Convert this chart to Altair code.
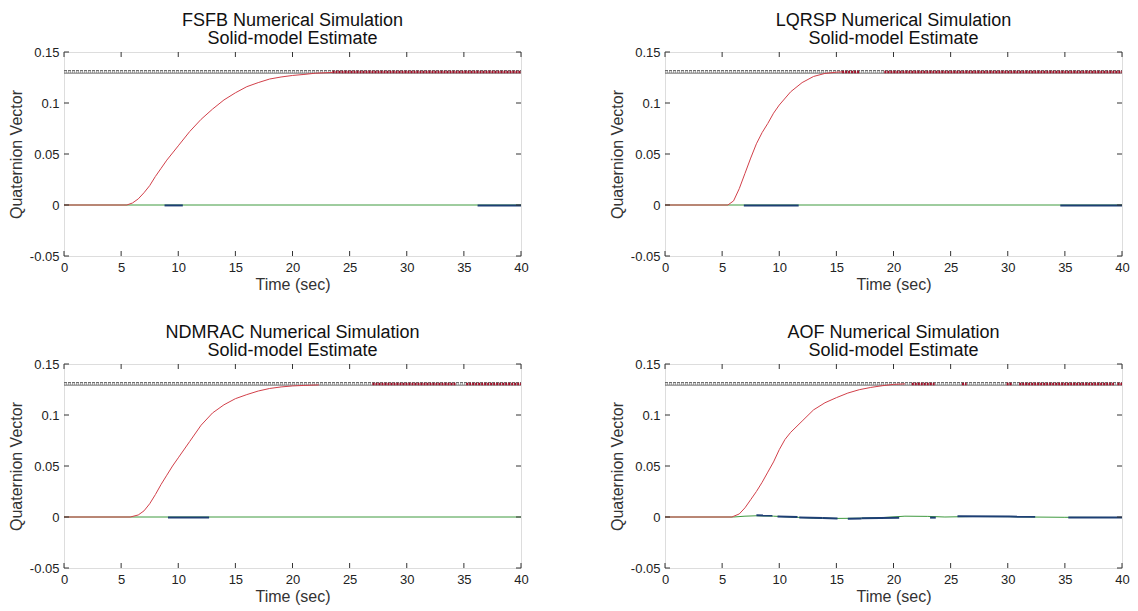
import altair as alt
import pandas as pd

# ---------------- data ----------------
X_TICKS = [0, 5, 10, 15, 20, 25, 30, 35, 40]
Y_TICKS = [-0.05, 0, 0.05, 0.1, 0.15]

# red (response) curves
FSFB_T = [0, 5.5, 6, 6.5, 7, 7.5, 8, 8.5, 9, 9.5, 10, 11, 12, 13, 14, 15, 16, 17, 18, 19, 20, 21, 22, 23.5]
FSFB_V = [0, 0, 0.002, 0.006, 0.012, 0.019, 0.028, 0.036, 0.044, 0.051, 0.058, 0.072, 0.084, 0.094, 0.103,
          0.110, 0.116, 0.120, 0.1235, 0.1255, 0.127, 0.128, 0.1292, 0.1300]
LQRSP_T = [0, 5.5, 6, 6.5, 7, 7.5, 8, 8.5, 9, 9.5, 10, 11, 12, 13, 14, 15, 15.5]
LQRSP_V = [0, 0, 0.004, 0.016, 0.031, 0.046, 0.060, 0.071, 0.080, 0.090, 0.098, 0.111, 0.120, 0.126, 0.129,
           0.1302, 0.1305]
NDMRAC_T = [0, 5.8, 6.5, 7, 7.5, 8, 8.5, 9, 9.5, 10, 11, 12, 13, 14, 15, 16, 17, 18, 19, 20, 21, 22.3]
NDMRAC_V = [0, 0, 0.002, 0.006, 0.013, 0.022, 0.032, 0.041, 0.050, 0.058, 0.074, 0.090, 0.102, 0.110, 0.116,
            0.120, 0.1235, 0.126, 0.1275, 0.1285, 0.129, 0.1295]
AOF_T = [0, 5.85, 6.5, 7, 7.5, 8, 8.5, 9, 9.5, 10, 10.5, 11, 12, 13, 14, 15, 16, 17, 18, 19, 20, 21]
AOF_V = [0, 0, 0.003, 0.009, 0.017, 0.025, 0.034, 0.044, 0.054, 0.066, 0.076, 0.083, 0.094, 0.105, 0.112,
         0.117, 0.1215, 0.1248, 0.127, 0.1287, 0.130, 0.1305]

# dense red band segments near steady state (start, end)
FSFB_BAND = [(23.5, 40)]
LQRSP_BAND = [(15.5, 17.0), (19.2, 40)]
NDMRAC_BAND = [(27.0, 34.3), (35.2, 40)]
AOF_BAND = [(21.6, 23.6), (26.0, 26.4), (29.9, 30.4), (31.0, 39.3), (39.6, 40)]

# reference lines around the commanded value
REF_HI = 0.1317
REF_MID = 0.1305
REF_LO = 0.1293

# green component
FLAT_GREEN_T = [0, 40]
FLAT_GREEN_V = [0, 0]
AOF_GREEN_T = [0, 6, 7, 8, 9.5, 11, 13, 15, 17, 19, 21, 23, 24.5, 27, 30, 32, 35, 40]
AOF_GREEN_V = [0, 0, 0.0008, 0.0012, 0.0008, 0, -0.001, -0.0014, -0.0012, -0.0006, 0.0008, 0.0006, 0,
               0.0005, 0.0004, 0, -0.0003, -0.0005]

# blue component segments: (t0, t1, v0, v1)
FSFB_BLUE = [(8.8, 10.4, -0.0004, -0.0004), (36.2, 40, -0.0004, -0.0004)]
LQRSP_BLUE = [(6.9, 11.7, -0.0004, -0.0004), (34.6, 40, -0.0004, -0.0004)]
NDMRAC_BLUE = [(9.1, 12.7, -0.0004, -0.0004)]
AOF_BLUE = [(8.0, 9.4, 0.0016, 0.0014), (9.85, 11.6, 0.0005, 0.0), (11.75, 13.8, -0.0005, -0.0009),
            (13.8, 15.1, -0.0011, -0.0014), (16.0, 17.2, -0.0016, -0.0014), (17.2, 20.5, -0.0012, -0.0008),
            (23.2, 23.7, -0.0006, -0.0006), (25.6, 30.2, 0.0007, 0.0006), (30.2, 32.4, 0.0004, 0.0002),
            (35.3, 40, -0.0006, -0.0006)]

PANELS = [
    ("FSFB", FSFB_T, FSFB_V, FSFB_BAND, FLAT_GREEN_T, FLAT_GREEN_V, FSFB_BLUE),
    ("LQRSP", LQRSP_T, LQRSP_V, LQRSP_BAND, FLAT_GREEN_T, FLAT_GREEN_V, LQRSP_BLUE),
    ("NDMRAC", NDMRAC_T, NDMRAC_V, NDMRAC_BAND, FLAT_GREEN_T, FLAT_GREEN_V, NDMRAC_BLUE),
    ("AOF", AOF_T, AOF_V, AOF_BAND, AOF_GREEN_T, AOF_GREEN_V, AOF_BLUE),
]

W, H = 457, 204
FONT = "Liberation Sans"
TXT = "#222222"

xs = alt.Scale(domain=[0, 40], nice=False, zero=False)
ys = alt.Scale(domain=[-0.05, 0.15], nice=False, zero=False)


def panel(name, rt, rv, band, gt, gv, blue):
    red_df = pd.DataFrame({"t": rt, "v": rv})
    green_df = pd.DataFrame({"t": gt, "v": gv})
    bl_rows = []
    for i, (t0, t1, v0, v1) in enumerate(blue):
        bl_rows += [{"t": t0, "v": v0, "s": i}, {"t": t1, "v": v1, "s": i}]
    blue_df = pd.DataFrame(bl_rows)
    band_rows = []
    for i, (t0, t1) in enumerate(band):
        band_rows += [{"t": t0, "v": REF_MID, "s": i}, {"t": t1, "v": REF_MID, "s": i}]
    band_df = pd.DataFrame(band_rows)
    ref_df = pd.DataFrame({"t": [0, 40, 0, 40, 0, 40],
                           "v": [REF_HI, REF_HI, REF_MID, REF_MID, REF_LO, REF_LO],
                           "k": ["hi", "hi", "mid", "mid", "lo", "lo"]})
    xt = pd.DataFrame({"t": X_TICKS})
    yt = pd.DataFrame({"v": Y_TICKS})

    X = alt.X("t:Q", scale=xs,
              axis=alt.Axis(title="Time (sec)", values=X_TICKS, ticks=False, domain=False, grid=False,
                            labelPadding=5, titlePadding=2, labelFont=FONT, titleFont=FONT,
                            labelFontSize=13, titleFontSize=16, titleFontWeight="normal",
                            labelColor=TXT, titleColor="#333333", labelFlush=False))
    Y = alt.Y("v:Q", scale=ys,
              axis=alt.Axis(title="Quaternion Vector", values=Y_TICKS, ticks=False, domain=False, grid=False,
                            labelExpr="'' + datum.value", labelPadding=5, titlePadding=5,
                            labelFont=FONT, titleFont=FONT, labelFontSize=13, titleFontSize=16,
                            titleFontWeight="normal", labelColor=TXT, titleColor="#333333",
                            labelFlush=False))

    base_mid = alt.Chart(ref_df).transform_filter("datum.k == 'mid'").mark_line(
        color="#b8b8b8", strokeWidth=2, strokeDash=[1, 1]).encode(x=X, y=Y)
    base_hi = alt.Chart(ref_df).transform_filter("datum.k == 'hi'").mark_line(
        color="#555555", strokeWidth=1, strokeDash=[3, 1]).encode(x="t:Q", y="v:Q")
    base_lo = alt.Chart(ref_df).transform_filter("datum.k == 'lo'").mark_line(
        color="#666666", strokeWidth=1).encode(x="t:Q", y="v:Q")
    band_l = alt.Chart(band_df).mark_line(color="#a3122a", strokeWidth=2.5, strokeDash=[2, 1]).encode(
        x="t:Q", y="v:Q", detail="s:N")
    green_l = alt.Chart(green_df).mark_line(color="#3f9a3f", strokeWidth=1).encode(x="t:Q", y="v:Q")
    blue_l = alt.Chart(blue_df).mark_line(color="#1d3f74", strokeWidth=2).encode(
        x="t:Q", y="v:Q", detail="s:N")
    red_l = alt.Chart(red_df).mark_line(color="#d2404a", strokeWidth=1).encode(x="t:Q", y="v:Q")

    tk = dict(color="#333333", strokeWidth=1)
    xb = alt.Chart(xt).mark_rule(**tk).encode(x="t:Q", y=alt.value(H), y2=alt.value(H - 5))
    xtp = alt.Chart(xt).mark_rule(**tk).encode(x="t:Q", y=alt.value(0), y2=alt.value(5))
    yl = alt.Chart(yt).mark_rule(**tk).encode(y="v:Q", x=alt.value(0), x2=alt.value(5))
    yr = alt.Chart(yt).mark_rule(**tk).encode(y="v:Q", x=alt.value(W - 5), x2=alt.value(W))

    return alt.layer(base_mid, base_hi, base_lo, band_l, green_l, blue_l, red_l, xb, xtp, yl, yr).properties(
        width=W, height=H,
        title=alt.TitleParams([f"{name} Numerical Simulation", "Solid-model Estimate"], font=FONT,
                              fontSize=18, fontWeight="normal", color="#111111", anchor="middle",
                              offset=-2, lineHeight=18))


charts = [panel(*p) for p in PANELS]
chart = alt.concat(*charts, columns=2, spacing=alt.RowColnumber(row=108, column=144), bounds="flush").properties(
    padding={"left": 7, "top": 11, "right": 5, "bottom": 5}
).configure_view(stroke="#333333", strokeWidth=1).configure(background="white")

chart.save("out.html", embed_options={"renderer": "svg", "actions": False})
